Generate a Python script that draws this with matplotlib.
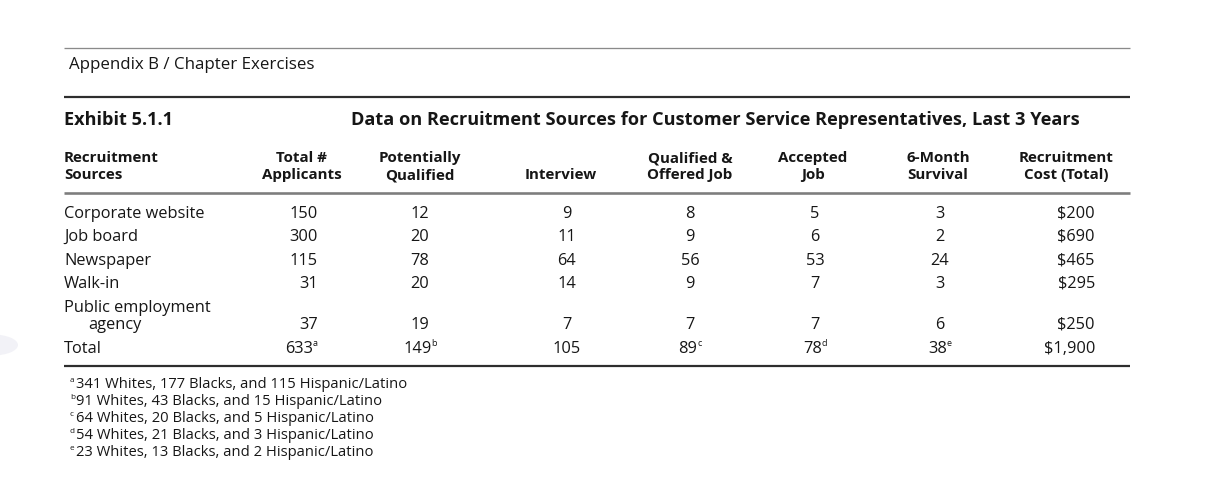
import matplotlib
matplotlib.use("Agg")
import matplotlib.pyplot as plt
from matplotlib.patches import Circle

W, H = 1215, 493
DPI = 100

# table data
sources = ["Corporate website", "Job board", "Newspaper", "Walk-in",
           "Public employment agency", "Total"]
applicants = [150, 300, 115, 31, 37, 633]
qualified = [12, 20, 78, 20, 19, 149]
interview = [9, 11, 64, 14, 7, 105]
offered = [8, 9, 56, 9, 7, 89]
accepted = [5, 6, 53, 7, 7, 78]
survival = [3, 2, 24, 3, 6, 38]
cost = [200, 690, 465, 295, 250, 1900]
total_marks = ["a", "b", "", "c", "d", "e", ""]

headers = [
    ("Recruitment", "Sources"),
    ("Total #", "Applicants"),
    ("Potentially", "Qualified"),
    ("", "Interview"),
    ("Qualified &", "Offered Job"),
    ("Accepted", "Job"),
    ("6-Month", "Survival"),
    ("Recruitment", "Cost (Total)"),
]

footnotes = [
    ("a", "341 Whites, 177 Blacks, and 115 Hispanic/Latino"),
    ("b", "91 Whites, 43 Blacks, and 15 Hispanic/Latino"),
    ("c", "64 Whites, 20 Blacks, and 5 Hispanic/Latino"),
    ("d", "54 Whites, 21 Blacks, and 3 Hispanic/Latino"),
    ("e", "23 Whites, 13 Blacks, and 2 Hispanic/Latino"),
]

FONT = "Open Sans"
INK = "#161616"

fig = plt.figure(figsize=(W / DPI, H / DPI), dpi=DPI, facecolor="white")
renderer = fig.canvas.get_renderer()


def pt(px):
    return px * 72 / DPI


def txt(x, yc, s, size, ha="left", bold=False, color=INK):
    # yc is the visual centre of the capitals, in pixels from the top
    base = yc + 0.36 * size
    return fig.text(x / W, 1 - base / H, s, ha=ha, va="baseline",
                    fontsize=pt(size), family=FONT,
                    fontweight="bold" if bold else "normal", color=color)


def hline(y, x0, x1, lw, color):
    fig.add_artist(plt.Line2D([x0 / W, x1 / W], [1 - y / H, 1 - y / H],
                              lw=lw * 72 / DPI, color=color, solid_capstyle="butt"))


def width_px(t):
    return t.get_window_extent(renderer).width


def num_with_mark(x, yc, s, mark, size, ha):
    # number plus a small raised letter, aligned as one piece
    t = txt(0, yc, s, size)
    if not mark:
        t.set_x(x / W)
        t.set_ha(ha)
        return
    m = txt(0, yc - 0.24 * size, mark, size * 0.55)
    w1, w2 = width_px(t), width_px(m)
    total = w1 + w2
    left = x - total / 2 if ha == "center" else x - total
    t.set_x(left / W)
    m.set_x((left + w1) / W)


# faint blob at the left edge
fig.add_artist(Circle((-8 / W, 1 - 345 / H), 26 / W, color="#f2f2f7",
                      transform=fig.transFigure, lw=0))

X0, X1 = 64, 1130
hline(47.5, X0, X1, 1.3, "#8a8a8a")
hline(97, X0, X1, 2.2, "#2e2e2e")
hline(192.5, X0, X1, 2.6, "#7d7d7d")
hline(365.5, X0, X1, 2.2, "#2e2e2e")

txt(69, 63, "Appendix B / Chapter Exercises", 16.9)
txt(64, 118, "Exhibit 5.1.1", 18.2, bold=True)
txt(715, 118, "Data on Recruitment Sources for Customer Service Representatives, Last 3 Years",
    18.2, ha="center", bold=True)

head_x = [64, 302, 420, 561, 690, 813, 938, 1066]
for i, (l1, l2) in enumerate(headers):
    ha = "left" if i == 0 else "center"
    if l1:
        txt(head_x[i], 157, l1, 15.1, ha=ha, bold=True)
    txt(head_x[i], 174, l2, 15.1, ha=ha, bold=True)

row_y = [212, 235, 259, 282, 323, 347]
BODY = 16.4
for r, name in enumerate(sources):
    if name == "Public employment agency":
        txt(64, 306, "Public employment", BODY)
        txt(88, row_y[r], "agency", BODY)
    else:
        txt(64, row_y[r], name, BODY)

columns = [applicants, qualified, interview, offered, accepted, survival]
col_x = [318, 420, 567, 690, 815, 940]
col_ha = ["right", "center", "center", "center", "center", "center"]
last = len(sources) - 1
for c, values in enumerate(columns):
    for r, v in enumerate(values):
        mark = total_marks[c] if r == last else ""
        num_with_mark(col_x[c], row_y[r], str(v), mark, BODY, col_ha[c])

for r, v in enumerate(cost):
    txt(1095, row_y[r], f"${v:,}", BODY, ha="right")

FOOT = 14.7
for k, (mark, line) in enumerate(footnotes):
    yc = 383 + 17 * k
    txt(70, yc - 3.5, mark, FOOT * 0.55)
    txt(75.5, yc, line, FOOT)

fig.savefig("out.png", dpi=DPI, facecolor="white")
